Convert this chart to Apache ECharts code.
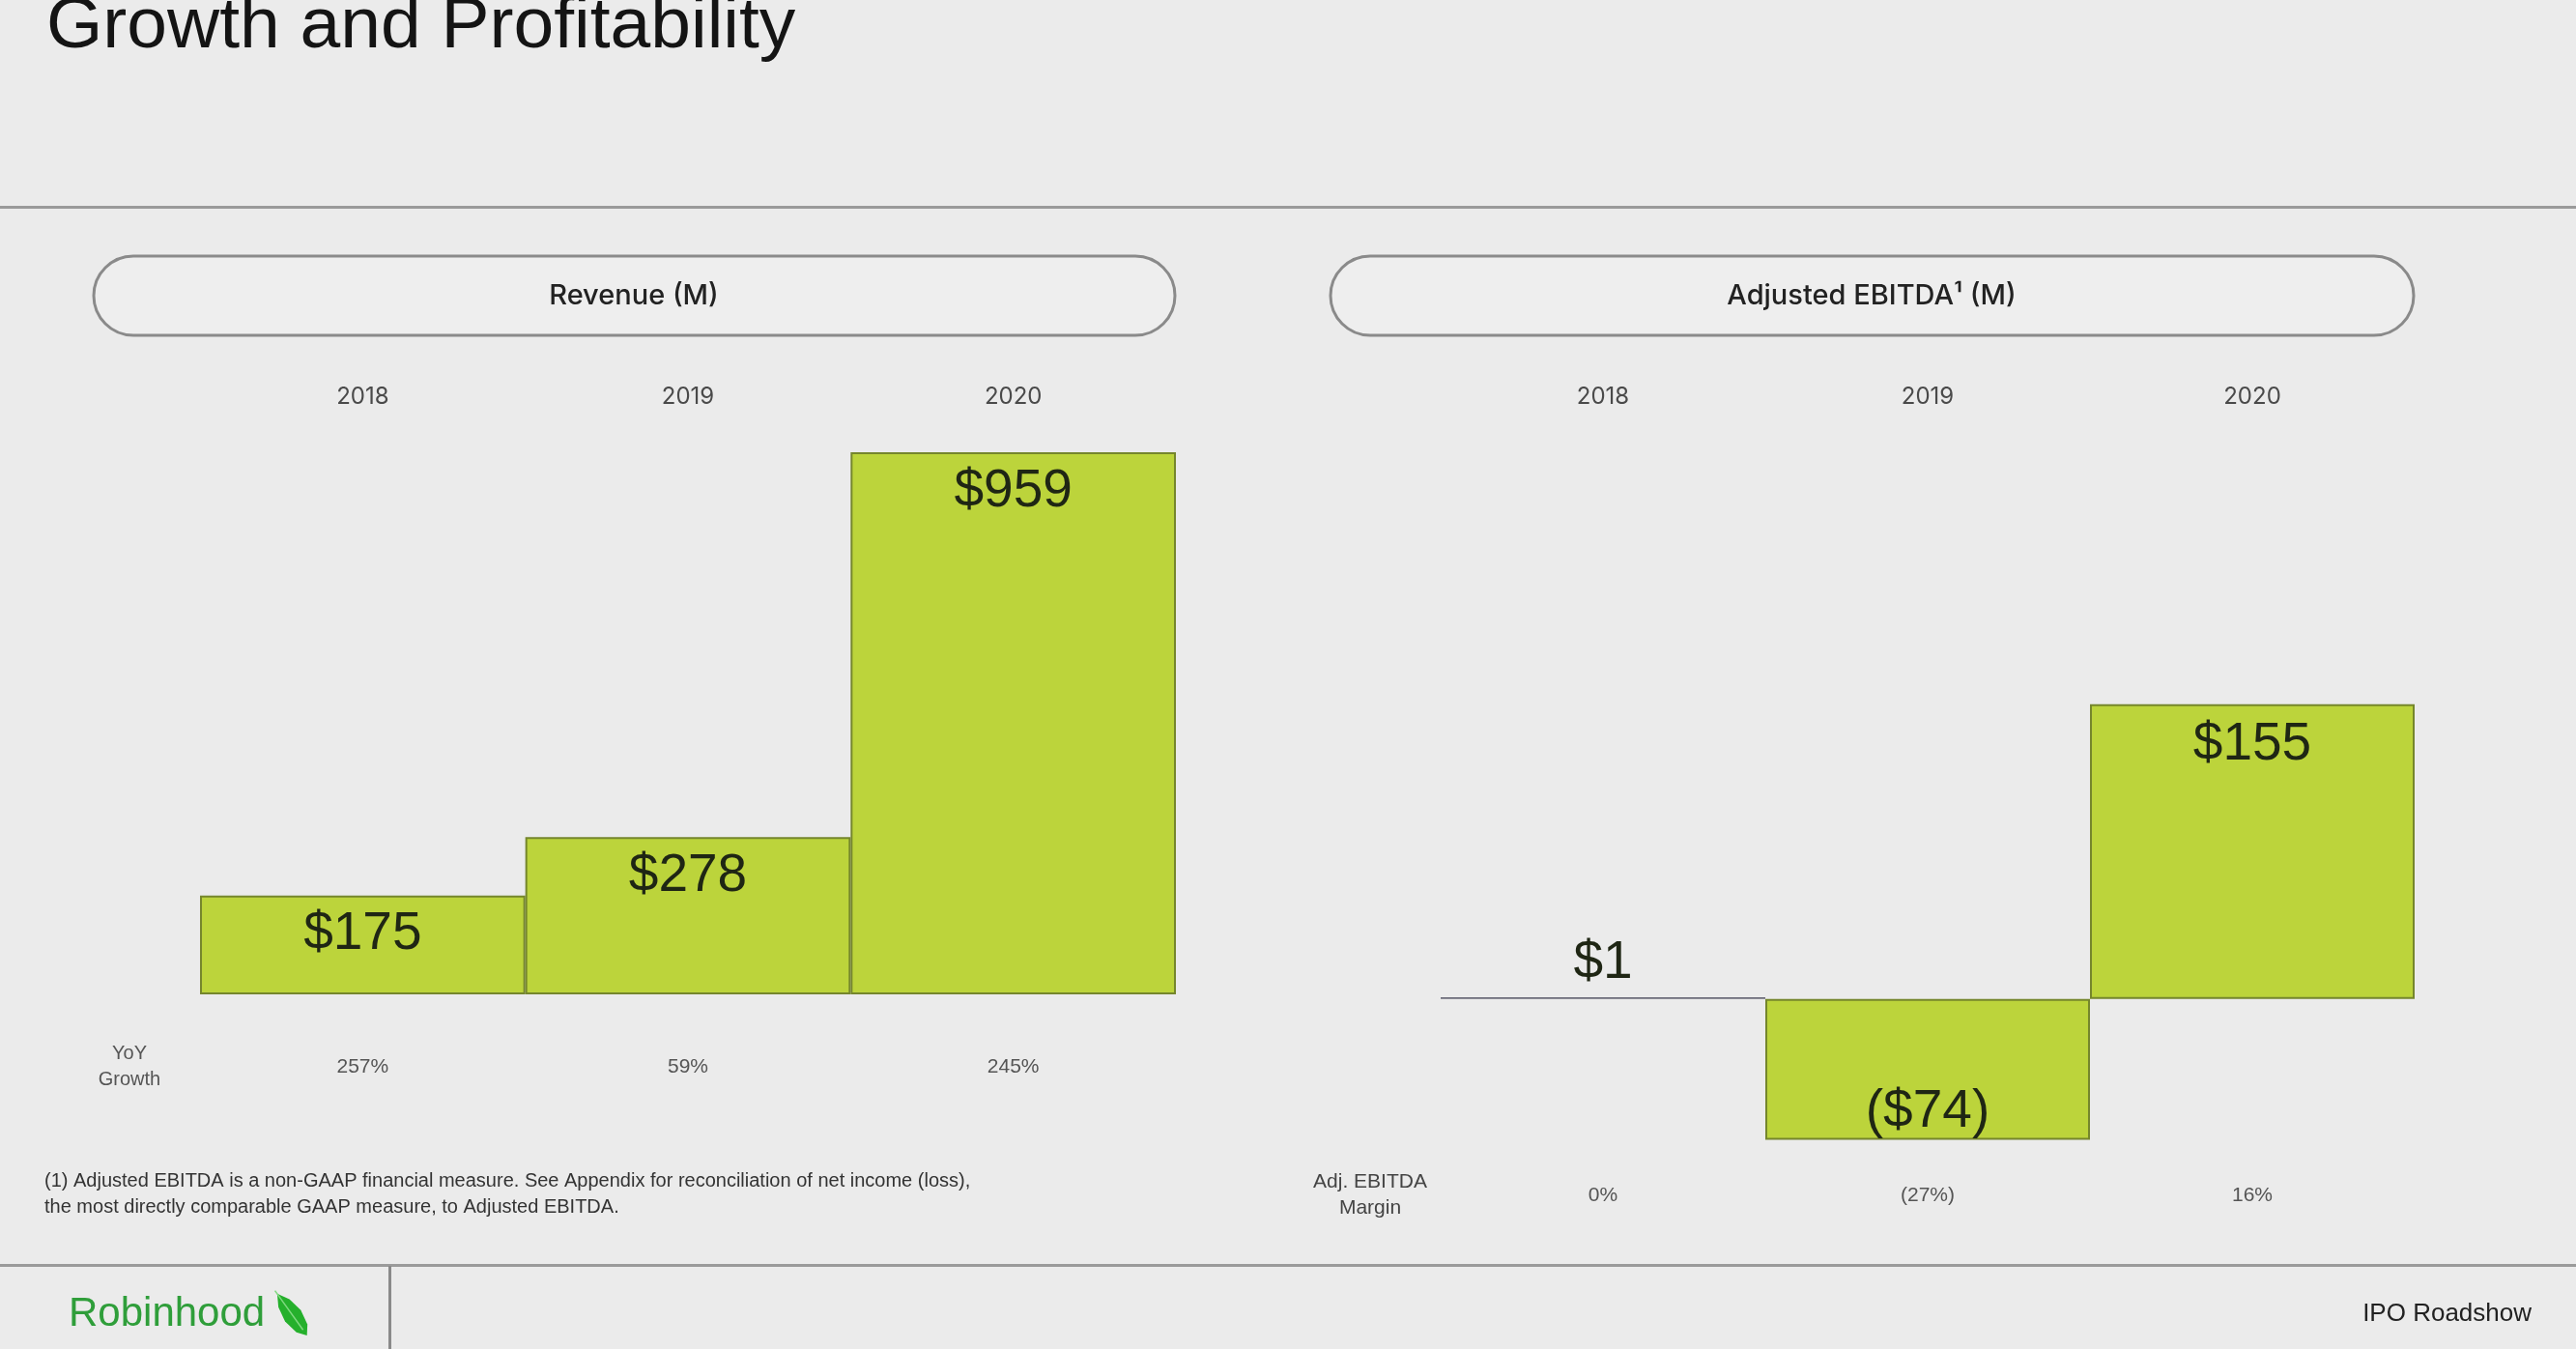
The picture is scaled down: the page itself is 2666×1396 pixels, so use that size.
<!DOCTYPE html>
<html><head><meta charset="utf-8">
<script src="https://cdn.jsdelivr.net/npm/echarts@6/dist/echarts.min.js"></script>
<style>html,body{margin:0;padding:0;background:#ebebeb;}#c{width:2666px;height:1396px;}</style>
</head><body><div id="c"></div>
<script>
// ---- data ----
const years = ['2018', '2019', '2020'];
const revenue = [175, 278, 959];
const revenueLabels = ['$175', '$278', '$959'];
const yoyGrowth = ['257%', '59%', '245%'];
const ebitda = [1, -74, 155];
const ebitdaLabels = ['$1', '($74)', '$155'];
const ebitdaMargin = ['0%', '(27%)', '16%'];
const footnote = [
  '(1) Adjusted EBITDA is a non-GAAP financial measure. See Appendix for reconciliation of net income (loss),',
  'the most directly comparable GAAP measure, to Adjusted EBITDA.'
];

// ---- styles ----
const BAR = '#bcd43b', BAR_EDGE = '#75862c', LINE_GRAY = '#6b6b78';
const valueLabel = {fontFamily: 'Liberation Sans', fontSize: 55, color: '#1f2614', textBorderWidth: 0};

const chart = echarts.init(document.getElementById('c'), null, {renderer: 'canvas'});

function catAxis(grid, pos, data, margin, font) {
  return {
    type: 'category', gridIndex: grid, position: pos, data: data,
    axisLine: {show: false}, axisTick: {show: false}, splitLine: {show: false},
    axisLabel: Object.assign({show: true, margin: margin, interval: 0}, font)
  };
}
const yearFont = {fontFamily: 'Inter', fontSize: 24, color: '#4a4a4a'};
const rowFont = {fontFamily: 'Liberation Sans', fontSize: 21, color: '#555'};

const option = {
  backgroundColor: '#ebebeb',
  animation: false,
  grid: [
    {left: 207, width: 1010, top: 444, height: 585, outerBoundsMode: 'none', containLabel: false},
    {left: 1491, width: 1008, top: 719, height: 472.3, outerBoundsMode: 'none', containLabel: false}
  ],
  xAxis: [
    catAxis(0, 'top', years, 21, yearFont),
    catAxis(0, 'bottom', yoyGrowth, 65, rowFont),
    catAxis(1, 'top', years, 296, yearFont),
    catAxis(1, 'bottom', ebitdaMargin, 35, rowFont)
  ],
  yAxis: [
    {type: 'value', gridIndex: 0, min: 0, max: 1000, interval: 200, show: false, splitLine: {show: false}},
    {type: 'value', gridIndex: 1, min: -80, max: 160, interval: 40, show: false, splitLine: {show: false}}
  ],
  series: [
    {
      type: 'bar', xAxisIndex: 0, yAxisIndex: 0, barWidth: '100%', data: revenue,
      itemStyle: {color: BAR, borderColor: BAR_EDGE, borderWidth: 2},
      label: Object.assign({show: true, position: 'insideTop', distance: 13,
        formatter: p => revenueLabels[p.dataIndex]}, valueLabel)
    },
    {
      type: 'bar', xAxisIndex: 2, yAxisIndex: 1, barWidth: '100%',
      data: ebitda.map((v, i) => {
        const d = {value: v};
        if (Math.abs(v) < 5) {
          d.itemStyle = {color: LINE_GRAY, borderColor: LINE_GRAY, borderWidth: 1.5};
          d.label = {position: 'top', distance: 8};
        } else if (v < 0) {
          d.label = {position: 'insideBottom', distance: 1};
        }
        return d;
      }),
      itemStyle: {color: BAR, borderColor: BAR_EDGE, borderWidth: 2},
      label: Object.assign({show: true, position: 'insideTop', distance: 14,
        formatter: p => ebitdaLabels[p.dataIndex]}, valueLabel)
    }
  ],
  graphic: [
    {type: 'text', left: 48, top: -9, style: {text: 'Growth and Profitability', font: '75px "Liberation Sans"', fill: '#141414'}},
    {type: 'rect', shape: {x: 0, y: 213, width: 2666, height: 3}, style: {fill: '#9a9a9a'}},
    {type: 'rect', shape: {x: 97, y: 265, width: 1119, height: 82, r: 41}, style: {fill: '#eeeeee', stroke: '#8a8a8a', lineWidth: 3}},
    {type: 'text', x: 656, y: 306, style: {text: 'Revenue (M)', font: '500 29px Inter', fill: '#222', align: 'center', verticalAlign: 'middle'}},
    {type: 'rect', shape: {x: 1377, y: 265, width: 1121, height: 82, r: 41}, style: {fill: '#eeeeee', stroke: '#8a8a8a', lineWidth: 3}},
    {type: 'text', x: 1937, y: 306, style: {text: 'Adjusted EBITDA¹ (M)', font: '500 29px Inter', fill: '#222', align: 'center', verticalAlign: 'middle'}},
    {type: 'text', x: 134, y: 1104, style: {text: 'YoY\nGrowth', font: '20px "Liberation Sans"', lineHeight: 27, fill: '#555', align: 'center', verticalAlign: 'middle'}},
    {type: 'text', x: 1418, y: 1237, style: {text: 'Adj. EBITDA\nMargin', font: '21px "Liberation Sans"', lineHeight: 27, fill: '#444', align: 'center', verticalAlign: 'middle'}},
    {type: 'text', x: 46, y: 1222, style: {text: footnote[0], font: '20px "Liberation Sans"', fill: '#333', verticalAlign: 'middle'}},
    {type: 'text', x: 46, y: 1249, style: {text: footnote[1], font: '20px "Liberation Sans"', fill: '#333', verticalAlign: 'middle'}},
    {type: 'rect', shape: {x: 0, y: 1308, width: 2666, height: 3}, style: {fill: '#9a9a9a'}},
    {type: 'rect', shape: {x: 402, y: 1310, width: 3, height: 90}, style: {fill: '#8a8a8a'}},
    {type: 'text', x: 71, y: 1360, style: {text: 'Robinhood', font: '42px "Liberation Sans"', fill: '#2f9e3a', verticalAlign: 'middle'}},
    {type: 'polygon', x: 302, y: 1360, rotation: -0.95,
      shape: {points: [[-26, 0], [-14, -7], [2, -10], [18, -7], [27, 0], [18, 7], [2, 10], [-14, 7]]},
      style: {fill: '#25b02c'}},
    {type: 'line', x: 302, y: 1360, rotation: -0.95, shape: {x1: -30, y1: 0, x2: 20, y2: 0}, style: {stroke: '#7fd87f', lineWidth: 1.5}},
    {type: 'text', x: 2620, y: 1360, style: {text: 'IPO Roadshow', font: '26px "Liberation Sans"', fill: '#222', align: 'right', verticalAlign: 'middle'}}
  ]
};
chart.setOption(option);
</script>
</body></html>
